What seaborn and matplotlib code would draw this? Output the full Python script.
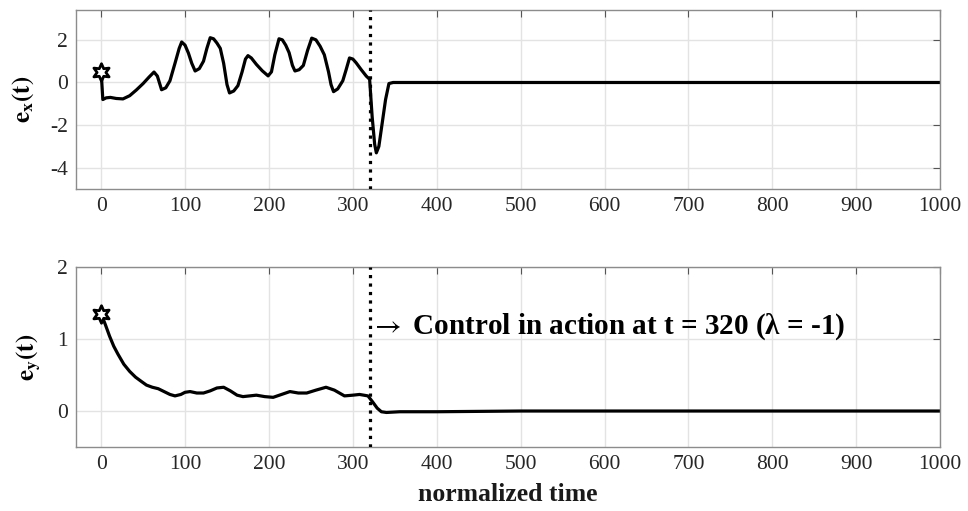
import numpy as np
import pandas as pd
import matplotlib
matplotlib.use("Agg")
import matplotlib.pyplot as plt
import seaborn as sns

# === Daten ===
t_x = [0, 2, 6, 11, 18, 26, 34, 42, 50, 57,
       63, 67, 72, 77, 82, 88, 93, 96, 100, 104,
       108, 112, 117, 122, 126, 130, 134, 138, 142, 146,
       150, 153, 158, 163, 168, 172, 175, 179, 185, 192,
       199, 203, 207, 212, 216, 220, 224, 228, 231, 236,
       241, 246, 251, 256, 261, 266, 271, 274, 277, 282,
       288, 292, 296, 300, 304, 310, 316, 320, 323, 326,
       328, 331, 335, 339, 343, 348, 400, 1000]
e_x = [0.5, -0.8, -0.72, -0.7, -0.75, -0.77, -0.62, -0.35, -0.05, 0.25,
       0.49, 0.3, -0.34, -0.25, 0.08, 0.9, 1.6, 1.9, 1.75, 1.38,
       0.9, 0.54, 0.65, 1.0, 1.6, 2.1, 2.05, 1.85, 1.6, 0.9,
       -0.1, -0.49, -0.4, -0.15, 0.5, 1.1, 1.26, 1.15, 0.85, 0.55,
       0.31, 0.5, 1.3, 2.05, 2.0, 1.75, 1.4, 0.8, 0.54, 0.6,
       0.8, 1.5, 2.08, 2.0, 1.7, 1.3, 0.5, -0.1, -0.43, -0.3,
       0.08, 0.6, 1.15, 1.1, 0.92, 0.6, 0.3, 0.15, -1.6, -2.9,
       -3.3, -3.0, -1.9, -0.8, -0.05, 0.0, 0.0, 0.0]

t_y = [0, 5, 10, 15, 20, 27, 34, 41, 48, 54,
       61, 68, 75, 82, 88, 95, 100, 106, 114, 122,
       130, 138, 146, 154, 162, 169, 177, 185, 195, 205,
       215, 225, 235, 245, 256, 268, 278, 290, 300, 308,
       318, 324, 329, 334, 340, 356, 400, 500, 1000]
e_y = [1.35, 1.2, 1.04, 0.9, 0.79, 0.65, 0.55, 0.47, 0.41, 0.36,
       0.33, 0.31, 0.27, 0.23, 0.21, 0.23, 0.26, 0.27, 0.25, 0.25,
       0.28, 0.32, 0.33, 0.28, 0.22, 0.20, 0.21, 0.22, 0.20, 0.19,
       0.23, 0.27, 0.25, 0.25, 0.29, 0.33, 0.29, 0.21, 0.22, 0.23,
       0.21, 0.12, 0.04, -0.01, -0.02, -0.01, -0.01, 0.0, 0.0]

t_control = 320
xticks = [0, 100, 200, 300, 400, 500, 600, 700, 800, 900, 1000]
yticks_x = [-4, -2, 0, 2]
yticks_y = [0, 1, 2]

# === Stil ===
sns.set_style("whitegrid")
plt.rcParams["font.family"] = ["Liberation Serif", "DejaVu Serif"]
plt.rcParams["mathtext.fontset"] = "stix"
plt.rcParams["axes.unicode_minus"] = False

fig = plt.figure(figsize=(9.68, 5.11), dpi=100)
ax1 = fig.add_axes([0.0785, 0.630, 0.8927, 0.3504])
ax2 = fig.add_axes([0.0785, 0.1252, 0.8927, 0.3523])

panels = [
    (ax1, t_x, e_x, (-5, 3.4), yticks_x, r"$\mathbf{e_x(t)}$"),
    (ax2, t_y, e_y, (-0.5, 2), yticks_y, r"$\mathbf{e_y(t)}$"),
]

for ax, t, e, ylim, yt, lab in panels:
    df = pd.DataFrame({"t": t, "e": e})
    sns.lineplot(data=df, x="t", y="e", ax=ax, color="black", lw=2.3,
                 estimator=None, sort=False)
    # Startpunkt als Hexagramm
    sns.scatterplot(x=[t[0]], y=[e[0]], ax=ax, marker=(6, 1, 0), s=160,
                    facecolor="white", edgecolor="black", linewidth=2.0, zorder=5)
    ax.axvline(t_control, color="black", ls=":", lw=2.3, zorder=4)
    ax.set_xlim(-30, 1000)
    ax.set_ylim(*ylim)
    ax.set_xticks(xticks)
    ax.set_yticks(yt)
    ax.tick_params(axis="both", labelsize=15.5, direction="in", length=5,
                   top=True, right=True, color="#555555", labelcolor="#262626", pad=6)
    ax.grid(True, color="#e3e3e3", lw=1.0)
    for sp in ax.spines.values():
        sp.set_color("#8c8c8c")
        sp.set_linewidth(1.0)
    ax.set_ylabel(lab, fontsize=18, labelpad=10, color="black")
    ax.set_xlabel("")

ax2.set_xlabel("normalized time", fontsize=18.5, fontweight="bold", labelpad=6, color="#1a1a1a")
ax2.text(321, 1.17, "$\\rightarrow$ Control in action at t = 320 (\u03bb = -1)",
         fontsize=21, fontweight="bold", va="center", ha="left", color="black")

fig.savefig("out.png", dpi=100)
